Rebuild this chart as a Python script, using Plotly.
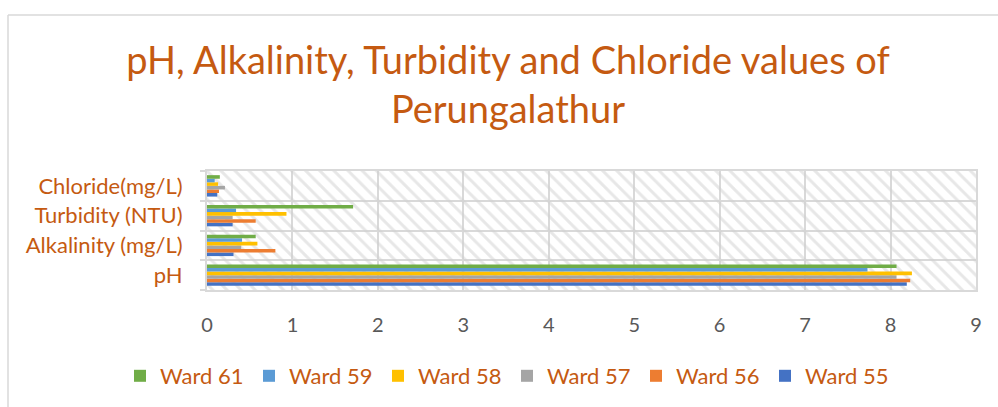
import plotly.graph_objects as go

categories = ["pH", "Alkalinity (mg/L)", "Turbidity (NTU)", "Chloride(mg/L)"]
wards = ["Ward 55", "Ward 56", "Ward 57", "Ward 58", "Ward 59", "Ward 61"]
values = {
    "Ward 55": [8.19, 0.31, 0.30, 0.12],
    "Ward 56": [8.23, 0.80, 0.57, 0.14],
    "Ward 57": [8.07, 0.40, 0.30, 0.21],
    "Ward 58": [8.25, 0.59, 0.93, 0.13],
    "Ward 59": [7.73, 0.41, 0.34, 0.09],
    "Ward 61": [8.07, 0.57, 1.71, 0.15],
}
colors = {
    "Ward 55": "#4472C4",
    "Ward 56": "#ED7D31",
    "Ward 57": "#A5A5A5",
    "Ward 58": "#FFC000",
    "Ward 59": "#5B9BD5",
    "Ward 61": "#70AD47",
}
x_ticks = list(range(0, 10))

ORANGE = "#C55A11"
GRID = "#D9D9D9"
FONT = "Lato"

ypos = list(range(len(categories)))
group = 0.72
w = group / len(wards)

fig = go.Figure()
# hatched plot-area background
fig.add_trace(go.Bar(
    y=ypos, x=[9] * len(ypos), orientation="h", width=1, base=0,
    marker=dict(color="rgba(0,0,0,0)", line=dict(width=0),
                pattern=dict(shape="\\", fgcolor="#CFCFCF", bgcolor="rgba(0,0,0,0)",
                             size=10, solidity=0.3)),
    showlegend=False, hoverinfo="skip",
))
for i, wd in enumerate(wards):
    fig.add_trace(go.Bar(
        name=wd, y=ypos, x=values[wd], orientation="h",
        width=w, offset=-group / 2 + i * w,
        marker=dict(color=colors[wd], line=dict(width=0)),
    ))

L, R, T, B = 207, 22, 171, 117
W, H = 998, 407
pw, ph = W - L - R, H - T - B

def px(xp):
    return (xp - L) / pw

def py(yp):
    return (H - B - yp) / ph

fig.update_layout(
    width=W, height=H,
    margin=dict(l=L, r=R, t=T, b=B, autoexpand=False),
    barmode="overlay",
    paper_bgcolor="white", plot_bgcolor="white",
    font=dict(family=FONT, color=ORANGE),
    title=dict(
        text="pH, Alkalinity, Turbidity and Chloride values of<br>Perungalathur",
        font=dict(family=FONT, size=38, color=ORANGE),
        x=0.509, xref="container", xanchor="center",
        y=1 - 74 / H, yref="container", yanchor="top",
    ),
    showlegend=True,
    legend=dict(
        orientation="h", traceorder="reversed",
        x=px(120), xanchor="left", y=py(376), yanchor="middle",
        font=dict(family=FONT, size=22, color=ORANGE),
        entrywidth=84, entrywidthmode="pixels",
        itemwidth=30,
    ),
    xaxis=dict(
        range=[0, 9], tickvals=x_ticks, showgrid=True, gridcolor=GRID, gridwidth=2,
        zeroline=False, showline=True, linecolor=GRID, linewidth=2, mirror=True,
        tickfont=dict(family=FONT, size=20, color="#595959"),
        ticklabelstandoff=16, fixedrange=True,
    ),
    yaxis=dict(
        range=[-0.5, 3.5], tickvals=ypos, ticktext=categories,
        showgrid=False, zeroline=False, showline=True, linecolor=GRID, linewidth=2,
        mirror=True, ticks="", ticklabelstandoff=18,
        tickfont=dict(family=FONT, size=22, color=ORANGE),
        minor=dict(tick0=-0.5, dtick=1, showgrid=True, gridcolor=GRID, gridwidth=2,
                   ticks="outside", ticklen=5, tickcolor=GRID, tickwidth=1.5),
    ),
    shapes=[
        dict(type="line", xref="paper", yref="paper", x0=px(8), x1=px(W + 5),
             y0=py(15), y1=py(15), line=dict(color=GRID, width=1.5)),
        dict(type="line", xref="paper", yref="paper", x0=px(8), x1=px(8),
             y0=py(15), y1=py(H + 5), line=dict(color=GRID, width=1.5)),
    ],
)

fig.write_html(
    "out.html",
    config={"displayModeBar": False},
    post_script="document.body.style.margin='0';document.body.style.overflow='hidden';",
)
